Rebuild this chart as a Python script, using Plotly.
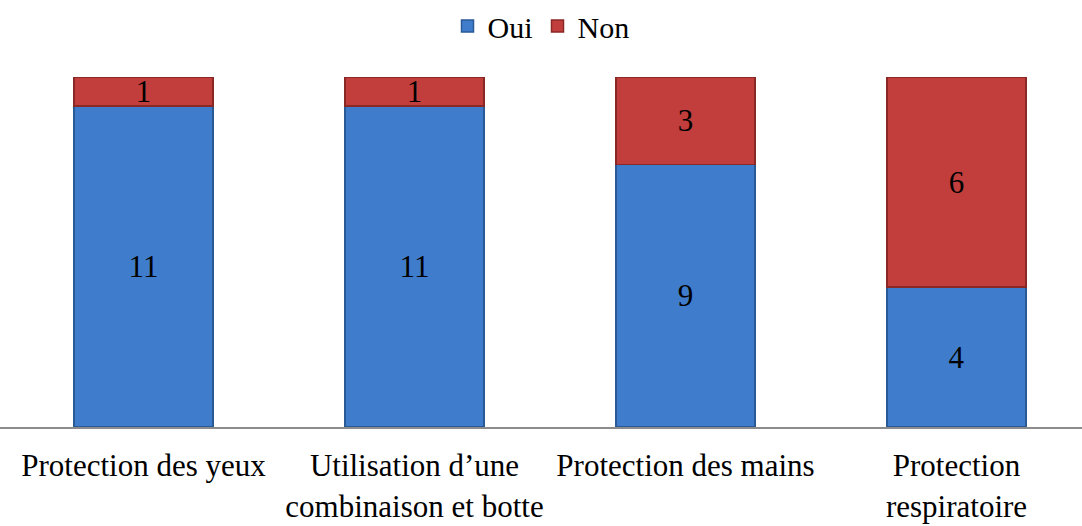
import plotly.graph_objects as go

categories = ["Protection des yeux", "Utilisation d\u2019une<br>combinaison et botte",
              "Protection des mains", "Protection<br>respiratoire"]
oui = [11, 11, 9, 4]
non = [1, 1, 3, 6]

x = list(range(len(categories)))
font = "Liberation Serif, Times New Roman, serif"

fig = go.Figure()
fig.add_trace(go.Bar(
    x=x, y=oui, name="Oui", text=oui, width=0.513,
    marker=dict(color="#3F7DCC", line=dict(color="#2A5A96", width=1.5)),
    textposition="inside", insidetextanchor="middle", textangle=0,
    textfont=dict(family=font, size=31, color="black"),
))
fig.add_trace(go.Bar(
    x=x, y=non, name="Non", text=non, width=0.513,
    marker=dict(color="#C13E3C", line=dict(color="#8A2826", width=1.5)),
    textposition="inside", insidetextanchor="middle", textangle=0,
    textfont=dict(family=font, size=31, color="black"),
))

fig.update_layout(
    barmode="stack", barnorm="percent",
    width=1082, height=526,
    margin=dict(l=0, r=0, t=77, b=99),
    paper_bgcolor="white", plot_bgcolor="white",
    font=dict(family=font, size=30, color="black"),
    uniformtext=dict(minsize=28, mode="show"),
    legend=dict(orientation="h", x=0.5, xanchor="center", y=1.22, yref="paper",
                yanchor="top", font=dict(size=30), itemwidth=30, traceorder="normal"),
    showlegend=True,
)
fig.update_xaxes(
    tickvals=x, ticktext=categories, range=[-0.5295, 3.4631],
    showline=True, linecolor="#8C8C8C", linewidth=2, showgrid=False,
    zeroline=False, tickfont=dict(size=31), ticklabelstandoff=10, automargin=False,
)
fig.update_yaxes(visible=False, range=[0, 100], showgrid=False, automargin=False)

# page has a default 8px body margin; drop it so the figure fills the window
fig.write_html("out.html", config={"displayModeBar": False},
               post_script="document.body.style.margin='0';")
